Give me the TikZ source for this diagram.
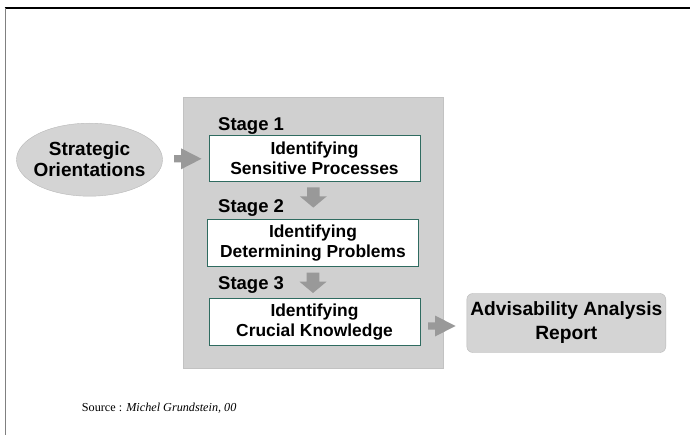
\documentclass[tikz,border=0pt]{standalone}
\usepackage{fontspec}
\setmainfont{Liberation Sans}
\newfontfamily\serifsrc{Liberation Serif}
\usetikzlibrary{shapes.geometric}
\definecolor{panelgrey}{HTML}{D0D0D0}
\definecolor{panelline}{HTML}{C2C2C2}
\definecolor{arrowgrey}{HTML}{999999}
\definecolor{boxline}{HTML}{2F6B60}
\definecolor{ovalgrey}{HTML}{D4D4D4}
\definecolor{ovalline}{HTML}{B8B8B8}
\tikzset{
  stagebox/.style={draw=boxline, line width=0.9pt, fill=white, minimum width=211pt, minimum height=46.5pt, align=center, inner sep=0pt, font=\bfseries\fontsize{17.4}{20.3}\selectfont},
  stagelabel/.style={anchor=base west, inner sep=0pt, font=\bfseries\fontsize{18.5}{20}\selectfont},
  oval/.style={ellipse, draw=ovalline, fill=ovalgrey, minimum width=146pt, minimum height=73pt, inner sep=0pt},
  ovaltext/.style={align=center, inner sep=0pt, font=\bfseries\fontsize{19}{21}\selectfont},
  reportbox/.style={draw=ovalline, fill=ovalgrey, rounded corners=6pt, minimum width=199pt, minimum height=59pt, inner sep=0pt, align=center, font=\bfseries\fontsize{19.2}{24}\selectfont},
  rblock/.pic={\fill[arrowgrey] (0,-3.6) -- (7,-3.6) -- (7,-10.5) -- (27.5,0) -- (7,10.5) -- (7,3.6) -- (0,3.6) -- cycle;},
  dblock/.pic={\fill[arrowgrey] (-6.3,0) -- (6.3,0) -- (6.3,9) -- (13.5,9) -- (0,20.3) -- (-13.5,9) -- (-6.3,9) -- cycle;}
}
\begin{document}
\begin{tikzpicture}[x=1pt,y=-1pt]
\useasboundingbox (0,0) rectangle (690,435);
% frame
\draw[black, line width=1.2pt] (4.5,8) -- (690,8);
\draw[gray, line width=1.6pt] (5.5,8) -- (5.5,435);
% panel
\node[draw=panelline, fill=panelgrey, line width=0.8pt, minimum width=260pt, minimum height=271pt, inner sep=0pt] (panel) at (313,232.5) {};
% stage boxes
\node[stagebox] (b1) at (314.5,158.3) {Identifying\\Sensitive Processes};
\node[stagebox] (b2) at (313,243) {Identifying\\Determining Problems};
\node[stagebox] (b3) at (314.5,322) {Identifying\\Crucial Knowledge};
\node[stagelabel] (s1) at (218,130.7) {Stage 1};
\node[stagelabel] (s2) at (218,212.7) {Stage 2};
\node[stagelabel] (s3) at (218,290) {Stage 3};
% oval and report
\node[oval] (so) at (89.5,159.7) {};
\node[ovaltext] (sot) at (so.center) {Strategic\\Orientations};
\node[reportbox] (rep) at (566.3,323) {Advisability Analysis\\Report};
% arrows
\pic at (174,158.8) {rblock};
\pic at (428,326) {rblock};
\pic at (313.3,187.3) {dblock};
\pic at (313,272.7) {dblock};
% source
\node[anchor=base west, inner sep=0pt, font=\serifsrc\fontsize{12.2}{14}\selectfont] (src) at (81.7,411.7) {Source : \textit{Michel Grundstein, 00}};
\end{tikzpicture}
\end{document}
